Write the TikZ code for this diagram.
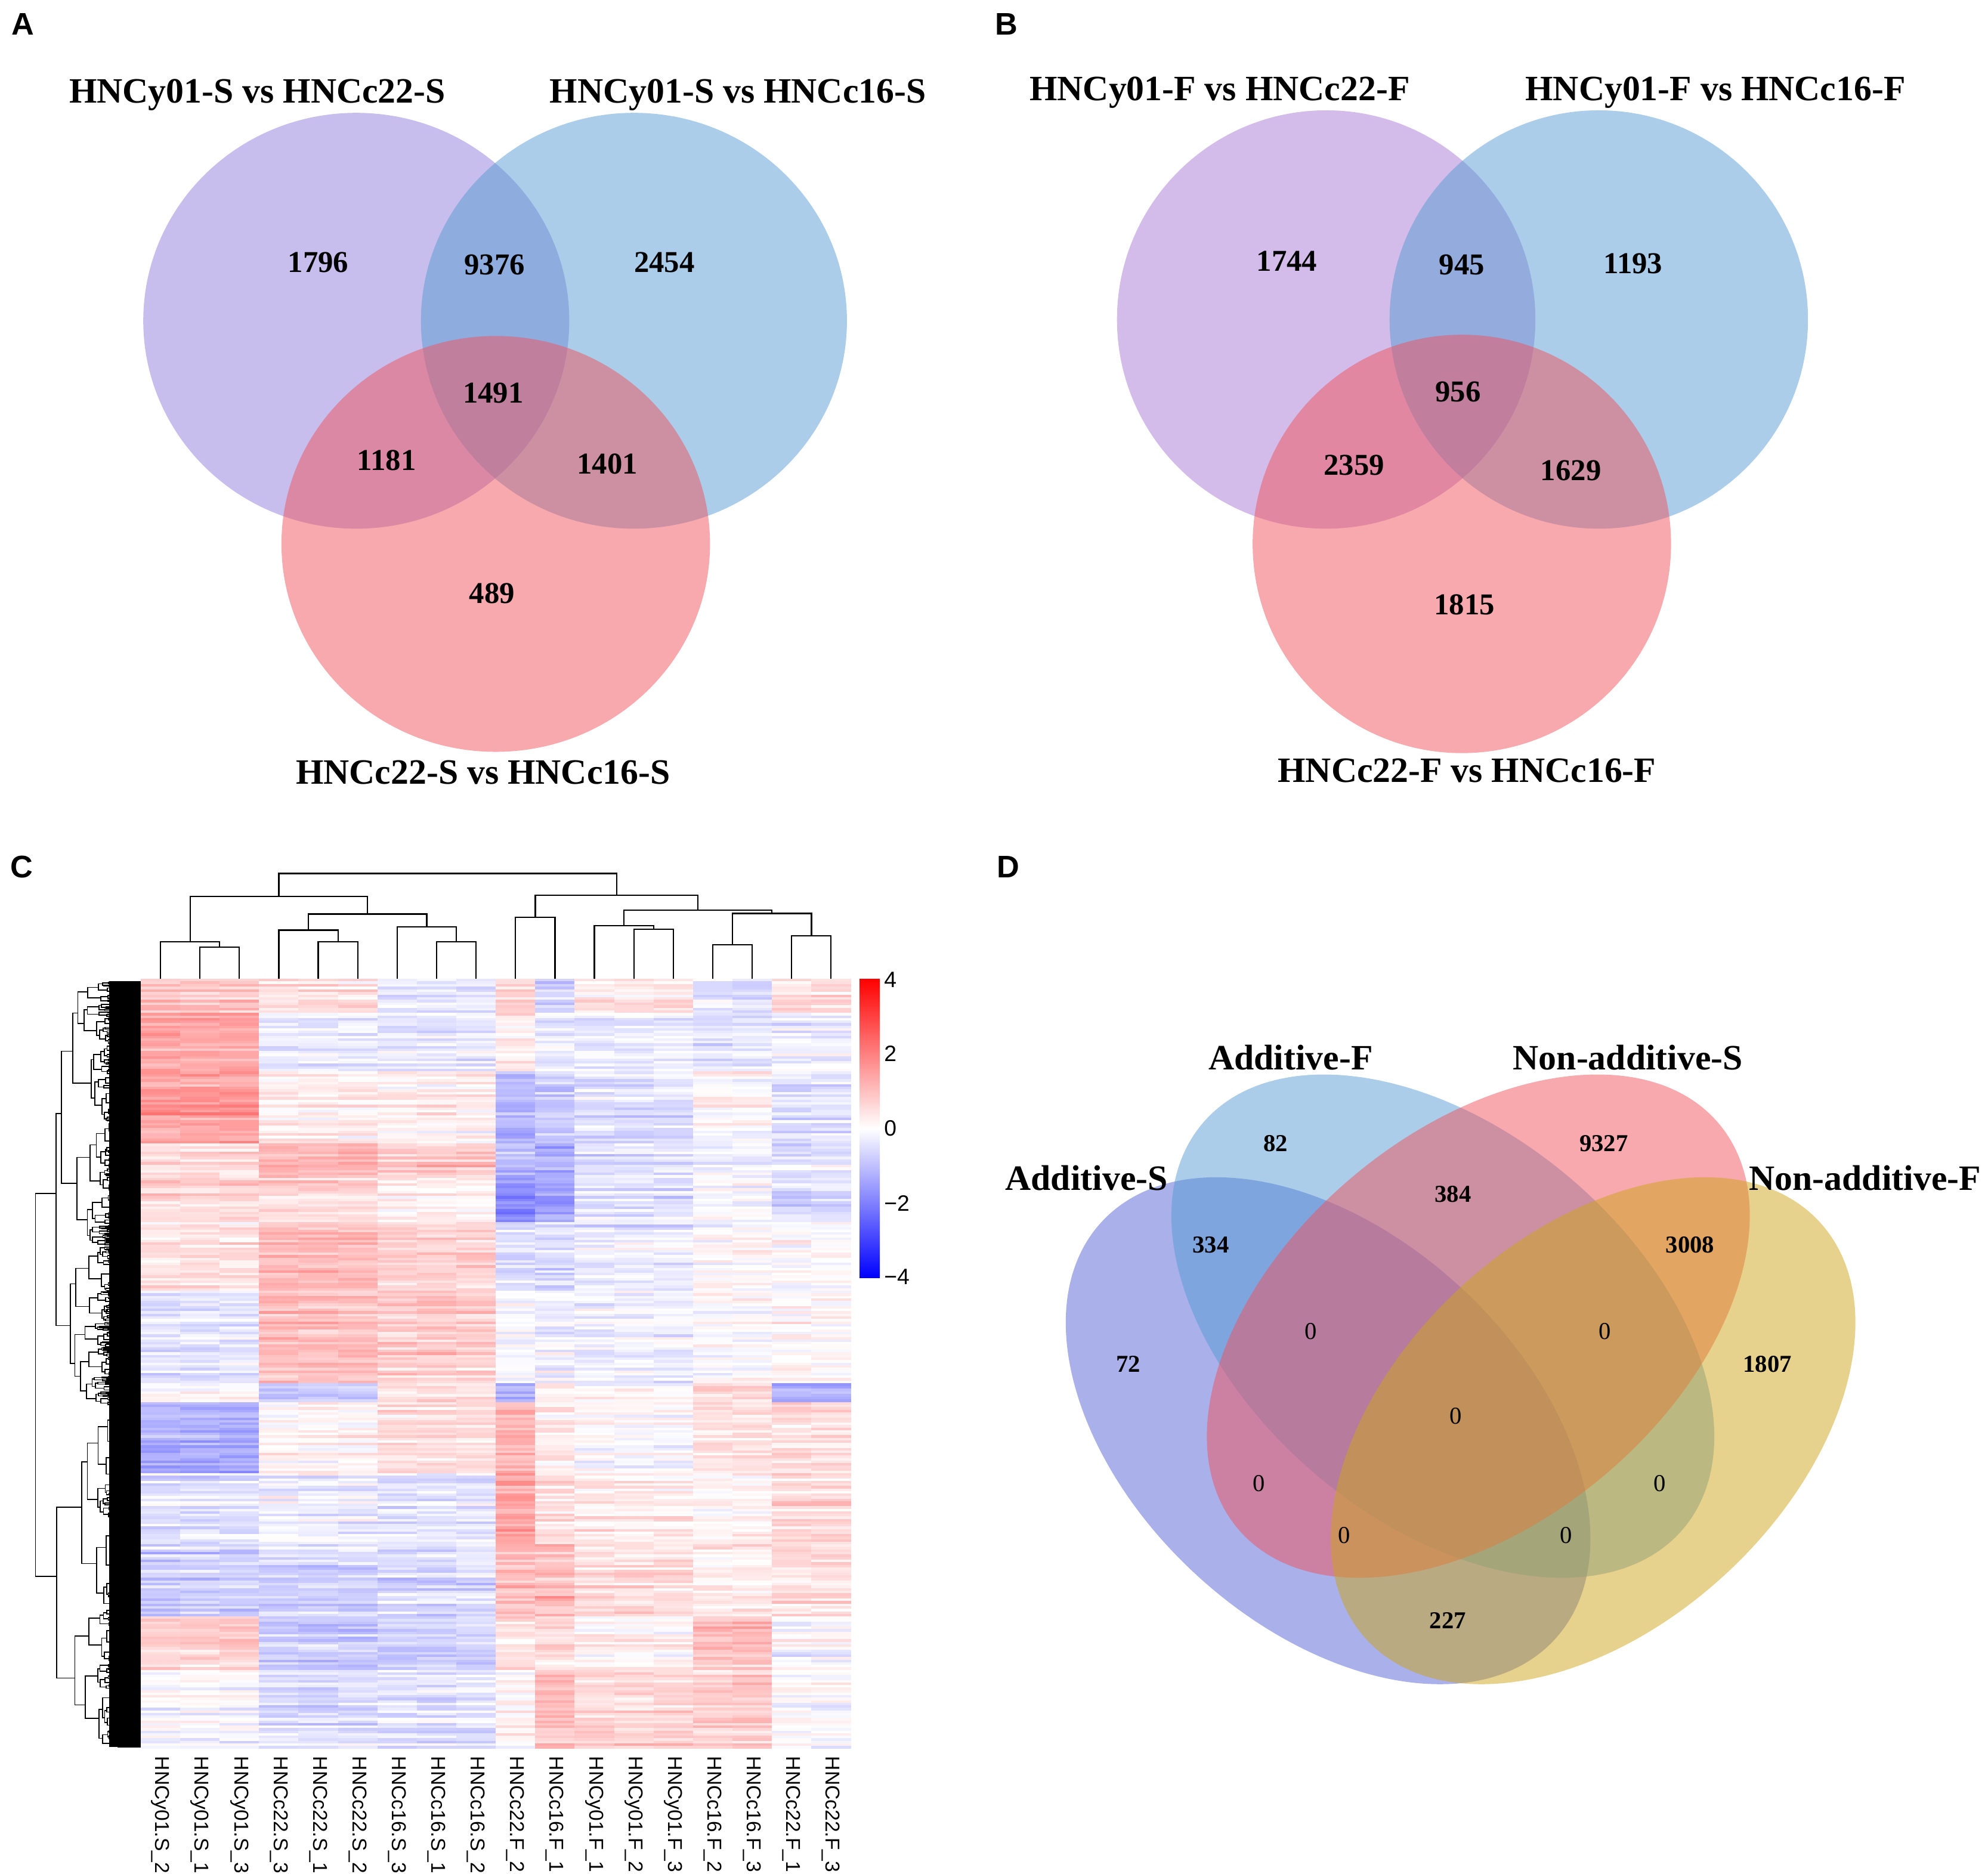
\documentclass[tikz,border=0pt]{standalone}
\usepackage{fontspec}
\setmainfont{Liberation Serif}
\setsansfont{Liberation Sans}
\usetikzlibrary{calc}

\definecolor{vennpurple}{RGB}{145,125,219}
\definecolor{vennlilac}{RGB}{167,121,211}
\definecolor{vennblue}{RGB}{87,155,211}
\definecolor{vennpink}{RGB}{239,83,93}
\definecolor{quadviolet}{RGB}{83,97,213}
\definecolor{quadyellow}{RGB}{205,165,25}

\tikzset{
  venn/.style={fill opacity=0.5},
  setlabel/.style={font=\bfseries\fontsize{16}{19}\selectfont, inner sep=0pt},
  setcount/.style={font=\bfseries\fontsize{13.6}{16}\selectfont, inner sep=0pt},
  quadcount/.style={font=\bfseries\fontsize{10.9}{13}\selectfont, inner sep=0pt},
  quadzero/.style={font=\fontsize{10.9}{13}\selectfont, inner sep=0pt},
  panel/.style={font=\sffamily\bfseries\fontsize{14}{17}\selectfont, inner sep=0pt},
  collabel/.style={font=\sffamily\fontsize{9}{10}\selectfont, rotate=-90, anchor=west, inner sep=0pt},
  ticklabel/.style={font=\sffamily\fontsize{10}{12}\selectfont, anchor=west, inner sep=0pt},
  treeline/.style={line width=0.45pt, black},
}

% row dendrogram: top, bottom, x of the branch, depth
\newcommand\rowtree[4]{%
  \begingroup
  \ifnum#4>0
    \pgfmathsetmacro\rtS{#1+(#2-#1)*(0.3+0.4*rnd)}%
    \pgfmathsetmacro\rtA{(#1+\rtS)/2}%
    \pgfmathsetmacro\rtB{(\rtS+#2)/2}%
    \pgfmathsetmacro\rtXa{#3+(98-#3)*(0.06+0.32*rnd)}%
    \pgfmathsetmacro\rtXb{#3+(98-#3)*(0.06+0.32*rnd)}%
    \draw[treeline] (\rtXa,\rtA) -| (#3,\rtB) -- (\rtXb,\rtB);%
    \pgfmathtruncatemacro\rtD{#4-1}%
    \edef\rtNext{\noexpand\rowtree{#1}{\rtS}{\rtXa}{\rtD}\noexpand\rowtree{\rtS}{#2}{\rtXb}{\rtD}}%
    \rtNext
  \else
    \draw[treeline] (#3,{(#1+#2)/2}) -- (111,{(#1+#2)/2});%
  \fi
  \endgroup
}

\begin{document}
\begin{tikzpicture}[x=0.02cm, y=-0.02cm]
\useasboundingbox (0,0) rectangle (1568,1478);
\pgfmathsetseed{4711}

% ---- A
\node[panel] (pA) at (18,19) {A};
\fill[venn, vennpurple] (281,253) ellipse [x radius=168, y radius=164];
\fill[venn, vennblue] (500,253) ellipse [x radius=168, y radius=164];
\fill[venn, vennpink] (391,429) ellipse [x radius=169, y radius=164];
\node[setlabel] (aL) at (203,75) {HNCy01-S vs HNCc22-S};
\node[setlabel] (aR) at (582,75) {HNCy01-S vs HNCc16-S};
\node[setlabel] (aB) at (381,609) {HNCc22-S vs HNCc16-S};
\node[setcount] (a1) at (251,207) {1796};
\node[setcount] (a2) at (390,209) {9376};
\node[setcount] (a3) at (524,207) {2454};
\node[setcount] (a4) at (389,310) {1491};
\node[setcount] (a5) at (305,363) {1181};
\node[setcount] (a6) at (479,366) {1401};
\node[setcount] (a7) at (388,468) {489};

% ---- B
\node[panel] (pB) at (794,19) {B};
\fill[venn, vennlilac] (1046,252) ellipse [x radius=165, y radius=165];
\fill[venn, vennblue] (1261,252) ellipse [x radius=165, y radius=165];
\fill[venn, vennpink] (1153,429) ellipse [x radius=165, y radius=165];
\node[setlabel] (bL) at (962,73) {HNCy01-F vs HNCc22-F};
\node[setlabel] (bR) at (1353,73) {HNCy01-F vs HNCc16-F};
\node[setlabel] (bB) at (1157,608) {HNCc22-F vs HNCc16-F};
\node[setcount] (b1) at (1015,206) {1744};
\node[setcount] (b2) at (1153,209) {945};
\node[setcount] (b3) at (1288,208) {1193};
\node[setcount] (b4) at (1150,309) {956};
\node[setcount] (b5) at (1068,367) {2359};
\node[setcount] (b6) at (1239,371) {1629};
\node[setcount] (b7) at (1155,477) {1815};

% ---- C
\node[panel] (pC) at (17,684) {C};
% heat map, bands of rows: y from, y to, then the mean of each column group
\foreach \ya/\yb/\ga/\gb/\gc/\gd/\ge/\gf/\gg/\gh in {
  772/799/0.8/0.4/-0.5/0.6/-0.6/0.2/-0.5/0.5,
  799/845/1.3/-0.2/-0.3/0.3/-0.2/-0.3/-0.4/-0.2,
  845/902/1.4/0.3/0.2/-1.0/-0.8/-0.4/0.1/-0.4,
  902/929/0.5/1.0/0.8/-1.0/-1.2/-0.4/-0.3/-0.4,
  929/964/0.6/0.6/0.3/-1.6/-1.3/-0.4/-0.1/-0.5,
  964/1018/0.4/0.9/0.6/-0.6/-0.5/-0.3/0/0,
  1018/1091/-0.4/0.9/0.7/-0.1/-0.2/-0.2/0/0.1,
  1091/1106/0/-0.7/0.5/-1.2/0.2/0/0.4/-1.2,
  1106/1162/-1.2/0.1/0.5/1.0/0.3/0/0.4/0.5,
  1162/1218/-0.4/-0.2/-0.4/1.3/0.5/0.3/0.2/0.5,
  1218/1275/-0.7/-0.6/-0.5/1.0/1.0/0.5/0.3/0.5,
  1275/1317/0.6/-0.8/-0.7/0.4/0.5/0.2/0.9/-0.1,
  1317/1379/-0.1/-0.5/-0.4/0.1/0.9/0.6/0.7/0}{
  \pgfmathtruncatemacro\hmrows{(\yb-\ya)/2}
  \pgfmathsetmacro\hmh{(\yb-\ya)/\hmrows}
  \foreach \r in {1,...,\hmrows}{
    \pgfmathsetmacro\hmy{\ya+(\r-1)*\hmh}
    \pgfmathsetmacro\hmrow{0.2*rand}
    \pgfmathsetmacro\na{0.3*rand}\pgfmathsetmacro\nb{0.3*rand}
    \pgfmathsetmacro\nc{0.3*rand}\pgfmathsetmacro\nd{0.3*rand}
    \pgfmathsetmacro\ne{0.3*rand}\pgfmathsetmacro\nf{0.3*rand}
    \pgfmathsetmacro\ng{0.3*rand}\pgfmathsetmacro\nh{0.3*rand}
    \foreach \c in {1,...,18}{
      \pgfmathsetmacro\hmv{1.12*({\ga,\ga,\ga,\gb,\gb,\gb,\gc,\gc,\gc,\gd,\ge,\gf,\gf,\gf,\gg,\gg,\gh,\gh}[\c-1]+{\na,\na,\na,\nb,\nb,\nb,\nc,\nc,\nc,\nd,\ne,\nf,\nf,\nf,\ng,\ng,\nh,\nh}[\c-1]+\hmrow+0.25*rand)}
      \pgfmathtruncatemacro\hmp{min(100,25*abs(\hmv))}
      \pgfmathtruncatemacro\hmpos{\hmv>0}
      \ifnum\hmpos=1 \def\hmcol{red}\else\def\hmcol{blue}\fi
      \fill[\hmcol!\hmp!white] ({111+(\c-1)*31.11},\hmy) rectangle ({111.4+\c*31.11},{\hmy+\hmh+0.4});
    }
  }
}
% row dendrogram
\fill[black] (86,774) rectangle (111,1378);
\rowtree{774}{1378}{28}{10}
% column dendrogram
\foreach \xa/\ya/\xb/\yb/\h in {
  157.7/772/188.8/772/747, 126.6/772/173.2/747/743,
  251.0/772/282.1/772/743, 219.9/772/266.6/743/733.6,
  344.4/772/375.5/772/743, 313.3/772/360.0/743/731,
  243.2/733.6/336.6/731/721, 149.9/743/289.9/721/707,
  406.6/772/437.7/772/723.4, 499.9/772/531.1/772/733,
  468.8/772/515.5/733/730, 562.2/772/593.3/772/745,
  624.4/772/655.5/772/738, 577.7/745/640.0/738/720.5,
  492.1/730/608.8/720.5/718, 422.2/723.4/550.5/718/706,
  219.9/707/486.3/706/689}{
  \draw[treeline, line width=0.6pt] (\xa,\ya) |- (\xb,\h) -- (\xb,\yb);
}
\foreach \lab [count=\i] in {HNCy01.S\_2,HNCy01.S\_1,HNCy01.S\_3,HNCc22.S\_3,HNCc22.S\_1,HNCc22.S\_2,HNCc16.S\_3,HNCc16.S\_1,HNCc16.S\_2,HNCc22.F\_2,HNCc16.F\_1,HNCy01.F\_1,HNCy01.F\_2,HNCy01.F\_3,HNCc16.F\_2,HNCc16.F\_3,HNCc22.F\_1,HNCc22.F\_3}{
  \node[collabel] (col\i) at ({111+(\i-0.5)*31.11},1385) {\lab};
}
% colour key
\shade[top color=red, bottom color=blue, middle color=white] (678,772) rectangle (694,1008);
\node[ticklabel] (k4) at (697,773) {4};
\node[ticklabel] (k2) at (697,831) {2};
\node[ticklabel] (k0) at (697,890) {0};
\node[ticklabel] (km2) at (697,949) {−2};
\node[ticklabel] (km4) at (697,1007) {−4};

% ---- D
\node[panel] (pD) at (795,684) {D};
\fill[venn, quadviolet, rotate around={-42.7:(1047.5,1128.5)}] (1047.5,1128.5) ellipse [x radius=243, y radius=154];
\fill[venn, vennblue, rotate around={-40.1:(1138,1046)}] (1138,1046) ellipse [x radius=248, y radius=154];
\fill[venn, vennpink, rotate around={40.1:(1166,1046)}] (1166,1046) ellipse [x radius=248, y radius=154];
\fill[venn, quadyellow, rotate around={42.7:(1256.5,1128.5)}] (1256.5,1128.5) ellipse [x radius=243, y radius=154];
\node[setlabel] (dAS) at (857,929) {Additive-S};
\node[setlabel] (dAF) at (1018,834) {Additive-F};
\node[setlabel] (dNS) at (1284,834) {Non-additive-S};
\node[setlabel] (dNF) at (1471,929) {Non-additive-F};
\node[quadcount] (d1) at (1006,902) {82};
\node[quadcount] (d2) at (1265,902) {9327};
\node[quadcount] (d3) at (1146,942) {384};
\node[quadcount] (d4) at (955,982) {334};
\node[quadcount] (d5) at (1333,982) {3008};
\node[quadzero] (d6) at (1034,1050) {0};
\node[quadzero] (d7) at (1266,1050) {0};
\node[quadcount] (d8) at (890,1076) {72};
\node[quadcount] (d9) at (1394,1076) {1807};
\node[quadzero] (d10) at (1148,1117) {0};
\node[quadzero] (d11) at (993,1170) {0};
\node[quadzero] (d12) at (1309,1170) {0};
\node[quadzero] (d13) at (1060,1211) {0};
\node[quadzero] (d14) at (1235,1211) {0};
\node[quadcount] (d15) at (1142,1278) {227};
\end{tikzpicture}
\end{document}
